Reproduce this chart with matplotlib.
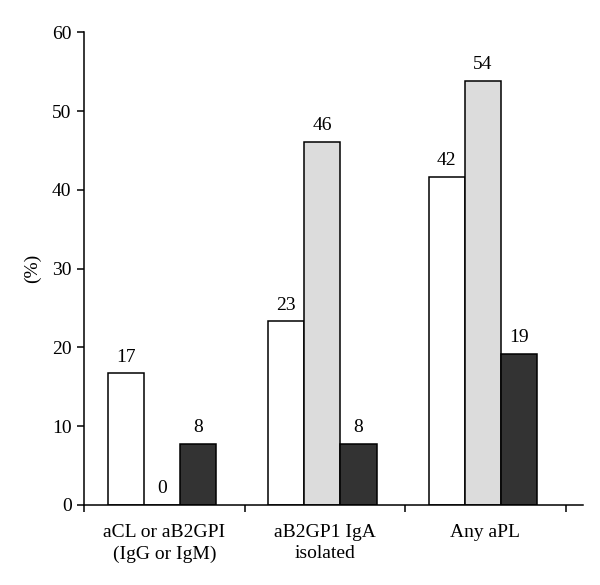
import matplotlib.pyplot as plt
import numpy as np

plt.rcParams['font.family'] = ['Liberation Serif', 'DejaVu Serif']

# Dados do gráfico
categorias = ['aCL or aB2GPI\n(IgG or IgM)', 'aB2GP1 IgA\nisolated', 'Any aPL']
serie_branca = [16.7, 23.3, 41.7]
serie_cinza = [0.0, 46.1, 53.8]
serie_escura = [7.7, 7.7, 19.2]
rotulos_branca = ['17', '23', '42']
rotulos_cinza = ['0', '46', '54']
rotulos_escura = ['8', '8', '19']

fig = plt.figure(figsize=(6, 5.85), dpi=100)
ax = fig.add_axes([0.14, 0.137, 0.832, 0.8075])

x = np.arange(len(categorias)) - 0.015
w = 0.225
series = [(serie_branca, rotulos_branca, '#ffffff', -w),
          (serie_cinza, rotulos_cinza, '#dcdcdc', 0),
          (serie_escura, rotulos_escura, '#333333', w)]
for valores, rotulos, cor, desl in series:
    barras = ax.bar(x + desl, valores, w, color=cor, edgecolor='black', linewidth=1.1)
    for b, r in zip(barras, rotulos):
        ax.text(b.get_x() + b.get_width() / 2, b.get_height() + 1.0, r,
                ha='center', va='bottom', fontsize=14)

ax.set_xlim(-0.5, 2.61)
ax.set_ylim(0, 60)
ax.set_yticks(range(0, 61, 10))
ax.set_xticks([-0.5, 0.5, 1.5, 2.5])
ax.set_xticklabels([])
ax.set_xticks(np.arange(len(categorias)), minor=True)
ax.set_xticklabels(categorias, minor=True, fontsize=14, linespacing=1.3)
ax.tick_params(axis='x', which='minor', length=0, pad=14)
ax.tick_params(axis='x', which='major', length=5, width=1.1, direction='out')
ax.tick_params(axis='y', length=5, width=1.1, direction='out', labelsize=14, pad=4)
ax.spines['top'].set_visible(False)
ax.spines['right'].set_visible(False)
ax.spines['left'].set_linewidth(1.1)
ax.spines['bottom'].set_linewidth(1.1)
ax.set_ylabel('(%)', fontsize=14, labelpad=8)

fig.savefig('out.png', dpi=100)
